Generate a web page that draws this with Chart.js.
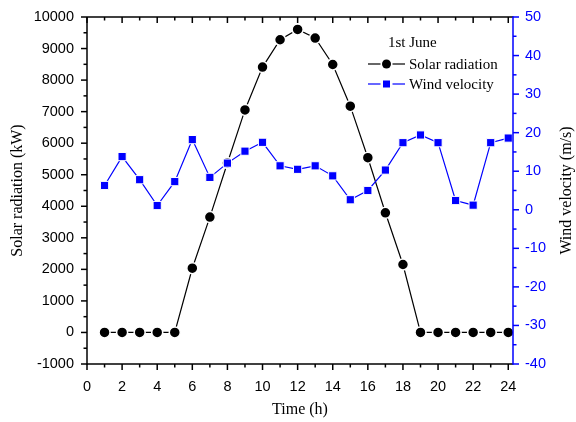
<!DOCTYPE html>
<html><head><meta charset="utf-8">
<script src="https://cdn.jsdelivr.net/npm/chart.js@4.4.1/dist/chart.umd.min.js"></script>
<style>html,body{margin:0;padding:0;background:#fff}</style>
</head><body>
<canvas id="c" width="576" height="422"></canvas>
<script>
const hours = [1,2,3,4,5,6,7,8,9,10,11,12,13,14,15,16,17,18,19,20,21,22,23,24];
const solarRadiation = [0,0,0,0,0,2036,3656,5372,7055,8412,9279,9606,9333,8494,7173,5540,3793,2154,0,0,0,0,0,0];
const windVelocity = [6.3,13.8,7.8,1.1,7.3,18.2,8.4,12.1,15.2,17.5,11.4,10.5,11.4,8.8,2.6,5.0,10.3,17.4,19.4,17.4,2.4,1.2,17.4,18.6];
const xTicks = [0,2,4,6,8,10,12,14,16,18,20,22,24];
const leftTicks = [-1000,0,1000,2000,3000,4000,5000,6000,7000,8000,9000,10000];
const rightTicks = [-40,-30,-20,-10,0,10,20,30,40,50];
const legendTitle = '1st June';
const seriesNames = ['Solar radiation','Wind velocity'];
const axisTitles = {x:'Time (h)', y:'Solar radiation (kW)', y1:'Wind velocity (m/s)'};

const BLUE = '#0000ff';
const SANS = "'Liberation Sans', Arial, sans-serif";
const SERIF = "'Liberation Serif', 'Times New Roman', serif";

function minors(arr){ const m=[]; for(let i=0;i<arr.length-1;i++) m.push((arr[i]+arr[i+1])/2); return m; }

const framePlugin = {
  id:'frame',
  afterDraw(chart){
    const {ctx, chartArea:{left,right,top,bottom}, scales} = chart;
    const sx = scales.x, sy = scales.y, sy1 = scales.y1;
    ctx.save();
    const line=(x1,y1,x2,y2)=>{ctx.beginPath();ctx.moveTo(x1,y1);ctx.lineTo(x2,y2);ctx.stroke();};
    ctx.lineWidth = 1.5; ctx.strokeStyle = '#000';
    line(left,top,right,top);
    line(left,bottom,right,bottom);
    line(left,top,left,bottom+0.75);
    xTicks.forEach(v=>{const p=sx.getPixelForValue(v); line(p,bottom,p,bottom+6); line(p,top,p,top+6);});
    minors(xTicks).forEach(v=>{const p=sx.getPixelForValue(v); line(p,bottom,p,bottom+3.5); line(p,top,p,top+3.5);});
    leftTicks.forEach(v=>{const p=sy.getPixelForValue(v); line(left-6,p,left,p);});
    minors(leftTicks).forEach(v=>{const p=sy.getPixelForValue(v); line(left-3.5,p,left,p);});
    ctx.strokeStyle = BLUE;
    line(right,top-0.75,right,bottom+0.75);
    rightTicks.forEach(v=>{const p=sy1.getPixelForValue(v); line(right,p,right+6,p);});
    minors(rightTicks).forEach(v=>{const p=sy1.getPixelForValue(v); line(right,p,right+3.5,p);});
    ctx.fillStyle = '#000';
    ctx.font = '16px ' + SERIF;
    ctx.textAlign = 'center'; ctx.textBaseline = 'middle';
    ctx.save();
    ctx.translate(567, (top+bottom)/2);
    ctx.rotate(-Math.PI/2);
    ctx.fillText(axisTitles.y1, 0, 0);
    ctx.restore();
    ctx.font = '15px ' + SERIF;
    ctx.textAlign = 'left'; ctx.textBaseline = 'middle';
    ctx.fillText(legendTitle, right-125, top+26);
    const rows = [
      {name:seriesNames[0], color:'#000', style:'circle', y: top+47},
      {name:seriesNames[1], color:BLUE, style:'rect', y: top+67}
    ];
    rows.forEach(r=>{
      const x0 = right-145, x1 = right-108, xm = (x0+x1)/2;
      ctx.strokeStyle = r.color; ctx.lineWidth = 1.2;
      line(x0, r.y, xm-6, r.y); line(xm+6, r.y, x1, r.y);
      ctx.fillStyle = r.color;
      if (r.style==='circle'){ ctx.beginPath(); ctx.arc(xm, r.y, 4.5, 0, Math.PI*2); ctx.fill(); }
      else { ctx.fillRect(xm-3.5, r.y-3.5, 7, 7); }
      ctx.fillStyle = '#000';
      ctx.fillText(r.name, right-104, r.y+1);
    });
    ctx.restore();
  }
};

const plain = v => String(v);
const fixV = w => s => { s.width = w; s.paddingTop = 0; s.paddingBottom = 0; };

new Chart(document.getElementById('c'), {
  type:'line',
  data:{
    datasets:[
      {
        label: seriesNames[0],
        data: hours.map((h,i)=>({x:h,y:solarRadiation[i]})),
        yAxisID:'y', order:1,
        borderColor:'#000', borderWidth:1.2,
        pointStyle:'circle', pointRadius:5.5, pointBackgroundColor:'#000',
        pointBorderColor:'#fff', pointBorderWidth:1.5, tension:0, fill:false
      },
      {
        label: seriesNames[1],
        data: hours.map((h,i)=>({x:h,y:windVelocity[i]})),
        yAxisID:'y1', order:0,
        borderColor:BLUE, borderWidth:1.2,
        pointStyle:'rect', pointRadius:5.8, pointBackgroundColor:BLUE,
        pointBorderColor:'#fff', pointBorderWidth:1, tension:0, fill:false
      }
    ]
  },
  options:{
    responsive:false, animation:false,
    layout:{padding:{top:17,left:0,right:0,bottom:0}},
    plugins:{legend:{display:false}, tooltip:{enabled:false}},
    scales:{
      x:{
        type:'linear', position:'bottom', min:0, max:24.27,
        afterBuildTicks:s=>{s.ticks = xTicks.map(v=>({value:v}));},
        afterFit:s=>{s.height = 58; s.paddingLeft = 0; s.paddingRight = 0;},
        grid:{display:false, drawTicks:false}, border:{display:false},
        ticks:{color:'#000', font:{family:SANS, size:14.5}, padding:14, maxRotation:0, autoSkip:false, callback:plain},
        title:{display:true, text:axisTitles.x, color:'#000', font:{family:SERIF, size:16}, padding:{top:0,bottom:3}}
      },
      y:{
        type:'linear', position:'left', min:-1000, max:10000,
        afterBuildTicks:s=>{s.ticks = leftTicks.map(v=>({value:v}));},
        afterFit:fixV(87),
        grid:{display:false, drawTicks:false}, border:{display:false},
        ticks:{color:'#000', font:{family:SANS, size:14.5}, padding:13, autoSkip:false, callback:plain},
        title:{display:true, text:axisTitles.y, color:'#000', font:{family:SERIF, size:16}, padding:{top:8,bottom:0}}
      },
      y1:{
        type:'linear', position:'right', min:-40, max:50,
        afterBuildTicks:s=>{s.ticks = rightTicks.map(v=>({value:v}));},
        afterFit:fixV(63),
        grid:{display:false, drawTicks:false}, border:{display:false},
        ticks:{color:BLUE, font:{family:SANS, size:14.5}, padding:12, autoSkip:false, callback:plain}
      }
    }
  },
  plugins:[framePlugin]
});
</script>
</body></html>
